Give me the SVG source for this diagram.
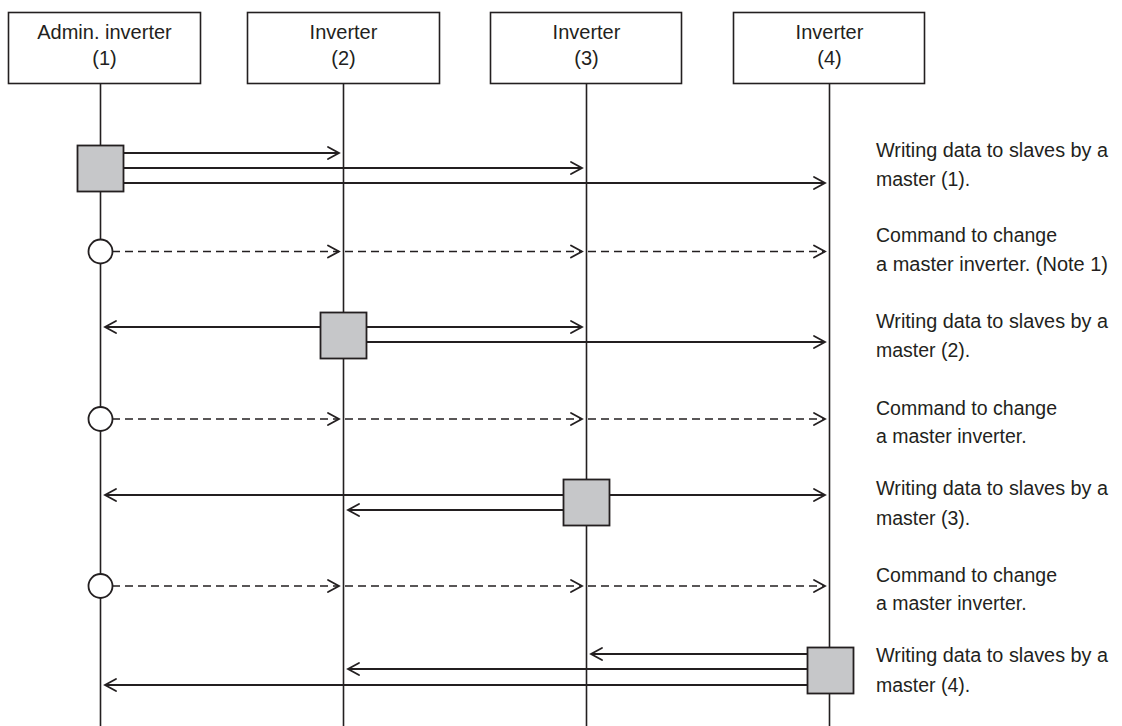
<svg xmlns="http://www.w3.org/2000/svg" width="1122" height="726" viewBox="0 0 1122 726">
<defs>
<style>
.hdr{fill:#fff;stroke:#231f20;stroke-width:1.6}
.life{stroke:#231f20;stroke-width:1.6;fill:none}
.msg{stroke:#231f20;stroke-width:1.8;fill:none}
.dash{stroke:#231f20;stroke-width:1.6;fill:none;stroke-dasharray:8 5}
.act{fill:#c6c7c9;stroke:#231f20;stroke-width:1.8}
.ctl{fill:#fff;stroke:#231f20;stroke-width:1.8}
.head{stroke:#231f20;stroke-width:1.8;fill:none;stroke-linecap:round;stroke-linejoin:miter}
text{font-family:"Liberation Sans",Arial,sans-serif;fill:#231f20}
.t{font-size:20px;text-anchor:middle}
.n{font-size:19.5px}
</style>
</defs>
<rect width="1122" height="726" fill="#fff"/>
<g id="lifelines">
<line class="life" x1="100.5" y1="83" x2="100.5" y2="726"/>
<line class="life" x1="343.5" y1="83" x2="343.5" y2="726"/>
<line class="life" x1="586.5" y1="83" x2="586.5" y2="726"/>
<line class="life" x1="829.5" y1="83" x2="829.5" y2="726"/>
</g>
<g id="node-inv1">
<rect class="hdr" x="8.5" y="12.5" width="192" height="71"/>
<text class="t" x="104.5" y="39">Admin. inverter</text>
<text class="t" x="104.5" y="65">(1)</text>
</g>
<g id="node-inv2">
<rect class="hdr" x="247.5" y="12.5" width="192" height="71"/>
<text class="t" x="343.5" y="39">Inverter</text>
<text class="t" x="343.5" y="65">(2)</text>
</g>
<g id="node-inv3">
<rect class="hdr" x="490.5" y="12.5" width="191" height="71"/>
<text class="t" x="586.5" y="39">Inverter</text>
<text class="t" x="586.5" y="65">(3)</text>
</g>
<g id="node-inv4">
<rect class="hdr" x="733.5" y="12.5" width="191" height="71"/>
<text class="t" x="829.5" y="39">Inverter</text>
<text class="t" x="829.5" y="65">(4)</text>
</g>
<g id="connectors">
<!-- row 1: master (1) -->
<line class="msg" x1="123" y1="153" x2="339" y2="153"/><polyline class="head" points="328,147 339,153 328,159"/>
<line class="msg" x1="123" y1="168" x2="582" y2="168"/><polyline class="head" points="571,162 582,168 571,174"/>
<line class="msg" x1="123" y1="183" x2="825" y2="183"/><polyline class="head" points="814,177 825,183 814,189"/>
<!-- row 2: command -->
<line class="dash" x1="112" y1="251.5" x2="339" y2="251.5"/><polyline class="head" points="328,245.5 339,251.5 328,257.5"/>
<line class="dash" x1="345" y1="251.5" x2="582" y2="251.5"/><polyline class="head" points="571,245.5 582,251.5 571,257.5"/>
<line class="dash" x1="588" y1="251.5" x2="825" y2="251.5"/><polyline class="head" points="814,245.5 825,251.5 814,257.5"/>
<!-- row 3: master (2) -->
<line class="msg" x1="321" y1="327" x2="105" y2="327"/><polyline class="head" points="116,321 105,327 116,333"/>
<line class="msg" x1="367" y1="327" x2="582" y2="327"/><polyline class="head" points="571,321 582,327 571,333"/>
<line class="msg" x1="367" y1="342" x2="825" y2="342"/><polyline class="head" points="814,336 825,342 814,348"/>
<!-- row 4: command -->
<line class="dash" x1="112" y1="419" x2="339" y2="419"/><polyline class="head" points="328,413 339,419 328,425"/>
<line class="dash" x1="345" y1="419" x2="582" y2="419"/><polyline class="head" points="571,413 582,419 571,425"/>
<line class="dash" x1="588" y1="419" x2="825" y2="419"/><polyline class="head" points="814,413 825,419 814,425"/>
<!-- row 5: master (3) -->
<line class="msg" x1="563" y1="495" x2="105" y2="495"/><polyline class="head" points="116,489 105,495 116,501"/>
<line class="msg" x1="563" y1="510" x2="348" y2="510"/><polyline class="head" points="359,504 348,510 359,516"/>
<line class="msg" x1="610" y1="495" x2="825" y2="495"/><polyline class="head" points="814,489 825,495 814,501"/>
<!-- row 6: command -->
<line class="dash" x1="112" y1="586" x2="339" y2="586"/><polyline class="head" points="328,580 339,586 328,592"/>
<line class="dash" x1="345" y1="586" x2="582" y2="586"/><polyline class="head" points="571,580 582,586 571,592"/>
<line class="dash" x1="588" y1="586" x2="825" y2="586"/><polyline class="head" points="814,580 825,586 814,592"/>
<!-- row 7: master (4) -->
<line class="msg" x1="807" y1="654" x2="591" y2="654"/><polyline class="head" points="602,648 591,654 602,660"/>
<line class="msg" x1="807" y1="669" x2="348" y2="669"/><polyline class="head" points="359,663 348,669 359,675"/>
<line class="msg" x1="807" y1="685" x2="105" y2="685"/><polyline class="head" points="116,679 105,685 116,691"/>
</g>
<g id="activations">
<rect class="act" x="77.5" y="145.5" width="46" height="46"/>
<circle class="ctl" cx="100.5" cy="251.5" r="12"/>
<rect class="act" x="320.5" y="312.5" width="46" height="46"/>
<circle class="ctl" cx="100.5" cy="419" r="12"/>
<rect class="act" x="563.5" y="479.5" width="46" height="46"/>
<circle class="ctl" cx="100.5" cy="586" r="12"/>
<rect class="act" x="807.5" y="647.5" width="46" height="46"/>
</g>
<g id="notes">
<text class="n" x="876" y="157" textLength="232" lengthAdjust="spacingAndGlyphs">Writing data to slaves by a</text>
<text class="n" x="876" y="186">master (1).</text>
<text class="n" x="876" y="242">Command to change</text>
<text class="n" x="876" y="271" textLength="232" lengthAdjust="spacingAndGlyphs">a master inverter. (Note 1)</text>
<text class="n" x="876" y="328" textLength="232" lengthAdjust="spacingAndGlyphs">Writing data to slaves by a</text>
<text class="n" x="876" y="357">master (2).</text>
<text class="n" x="876" y="415">Command to change</text>
<text class="n" x="876" y="443">a master inverter.</text>
<text class="n" x="876" y="495" textLength="232" lengthAdjust="spacingAndGlyphs">Writing data to slaves by a</text>
<text class="n" x="876" y="525">master (3).</text>
<text class="n" x="876" y="582">Command to change</text>
<text class="n" x="876" y="610">a master inverter.</text>
<text class="n" x="876" y="662" textLength="232" lengthAdjust="spacingAndGlyphs">Writing data to slaves by a</text>
<text class="n" x="876" y="692">master (4).</text>
</g>
</svg>
